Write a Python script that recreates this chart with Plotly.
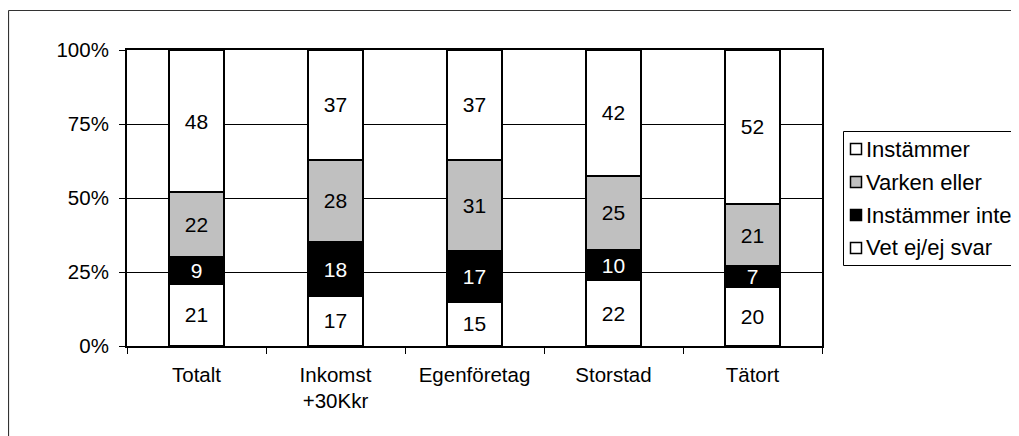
import plotly.graph_objects as go

categories = ["Totalt", "Inkomst<br>+30Kkr", "Egenföretag", "Storstad", "Tätort"]
vet_ej = [21, 17, 15, 22, 20]
instammer_inte = [9, 18, 17, 10, 7]
varken_eller = [22, 28, 31, 25, 21]
instammer = [48, 37, 37, 42, 52]
y_ticks = [0, 25, 50, 75, 100]
y_tick_text = ["0%", "25%", "50%", "75%", "100%"]

# bottom -> top of the stack
series = [
    ("Vet ej/ej svar", vet_ej, "#FFFFFF", "#000000"),
    ("Instämmer inte", instammer_inte, "#000000", "#FFFFFF"),
    ("Varken eller", varken_eller, "#C0C0C0", "#000000"),
    ("Instämmer", instammer, "#FFFFFF", "#000000"),
]

FONT = "Liberation Sans, Arial, sans-serif"

# page has an 8px body margin; work in page pixels and convert
OFF = 8
W, H = 1019 - OFF, 436 - OFF
L, R, T, B = 127 - OFF, 822 - OFF, 50 - OFF, 346 - OFF


def px_x(p):
    return (p - OFF - L) / (R - L)


def px_y(p):
    return (B - (p - OFF)) / (B - T)


fig = go.Figure()
for name, vals, fill, tcol in series:
    fig.add_trace(go.Bar(
        name=name, x=categories, y=vals,
        text=[str(v) for v in vals], texttemplate="%{text}",
        textposition="inside", insidetextanchor="middle", textangle=0,
        textfont=dict(family=FONT, size=21, color=tcol),
        marker=dict(color=fill, line=dict(color="#000000", width=2)),
        width=0.4, hoverinfo="skip", showlegend=False,
    ))

shapes = [
    # outer chart frame
    dict(type="line", xref="paper", yref="paper",
         x0=px_x(8.5), x1=px_x(1040), y0=px_y(10.5), y1=px_y(10.5),
         line=dict(color="#333333", width=1.2)),
    dict(type="line", xref="paper", yref="paper",
         x0=px_x(8.5), x1=px_x(8.5), y0=px_y(10.5), y1=px_y(460),
         line=dict(color="#333333", width=1.2)),
    # legend box
    dict(type="rect", xref="paper", yref="paper",
         x0=px_x(843.5), x1=px_x(1017.5), y0=px_y(131.5), y1=px_y(265.5),
         line=dict(color="#000000", width=1), fillcolor="#FFFFFF", layer="above"),
]
annotations = []
legend_order = list(reversed(series))  # top of stack first
item_y = [149, 182, 215, 248]
for (name, vals, fill, tcol), cy in zip(legend_order, item_y):
    shapes.append(dict(
        type="rect", xref="paper", yref="paper",
        x0=px_x(850.5), x1=px_x(861.5), y0=px_y(cy - 5.5), y1=px_y(cy + 5.5),
        line=dict(color="#000000", width=1.5), fillcolor=fill, layer="above"))
    annotations.append(dict(
        xref="paper", yref="paper", x=px_x(864), y=px_y(cy),
        xanchor="left", yanchor="middle", showarrow=False, text=name,
        font=dict(family=FONT, size=22, color="#000000")))

fig.update_layout(
    width=W, height=H,
    margin=dict(l=L, r=W - R, t=T, b=H - B, pad=0),
    barmode="stack", barnorm="percent",
    paper_bgcolor="#FFFFFF", plot_bgcolor="#FFFFFF",
    font=dict(family=FONT, size=20.5, color="#000000"),
    uniformtext=dict(minsize=21, mode="show"),
    showlegend=False,
    xaxis=dict(
        type="category", range=[-0.5, 4.5],
        showline=True, linecolor="#000000", linewidth=2, mirror=True,
        ticks="outside", ticklen=6, tickwidth=1, tickcolor="#000000",
        tickson="boundaries", showgrid=False, ticklabelstandoff=9,
        tickfont=dict(family=FONT, size=20.5),
    ),
    yaxis=dict(
        range=[0, 100], tickvals=y_ticks, ticktext=y_tick_text,
        showline=True, linecolor="#000000", linewidth=2, mirror=True,
        ticks="outside", ticklen=6, tickwidth=1, tickcolor="#000000",
        showgrid=True, gridcolor="#000000", gridwidth=1,
        zeroline=False, ticklabelstandoff=6,
        tickfont=dict(family=FONT, size=20.5),
    ),
    shapes=shapes,
    annotations=annotations,
)

fig.write_html("out.html")
